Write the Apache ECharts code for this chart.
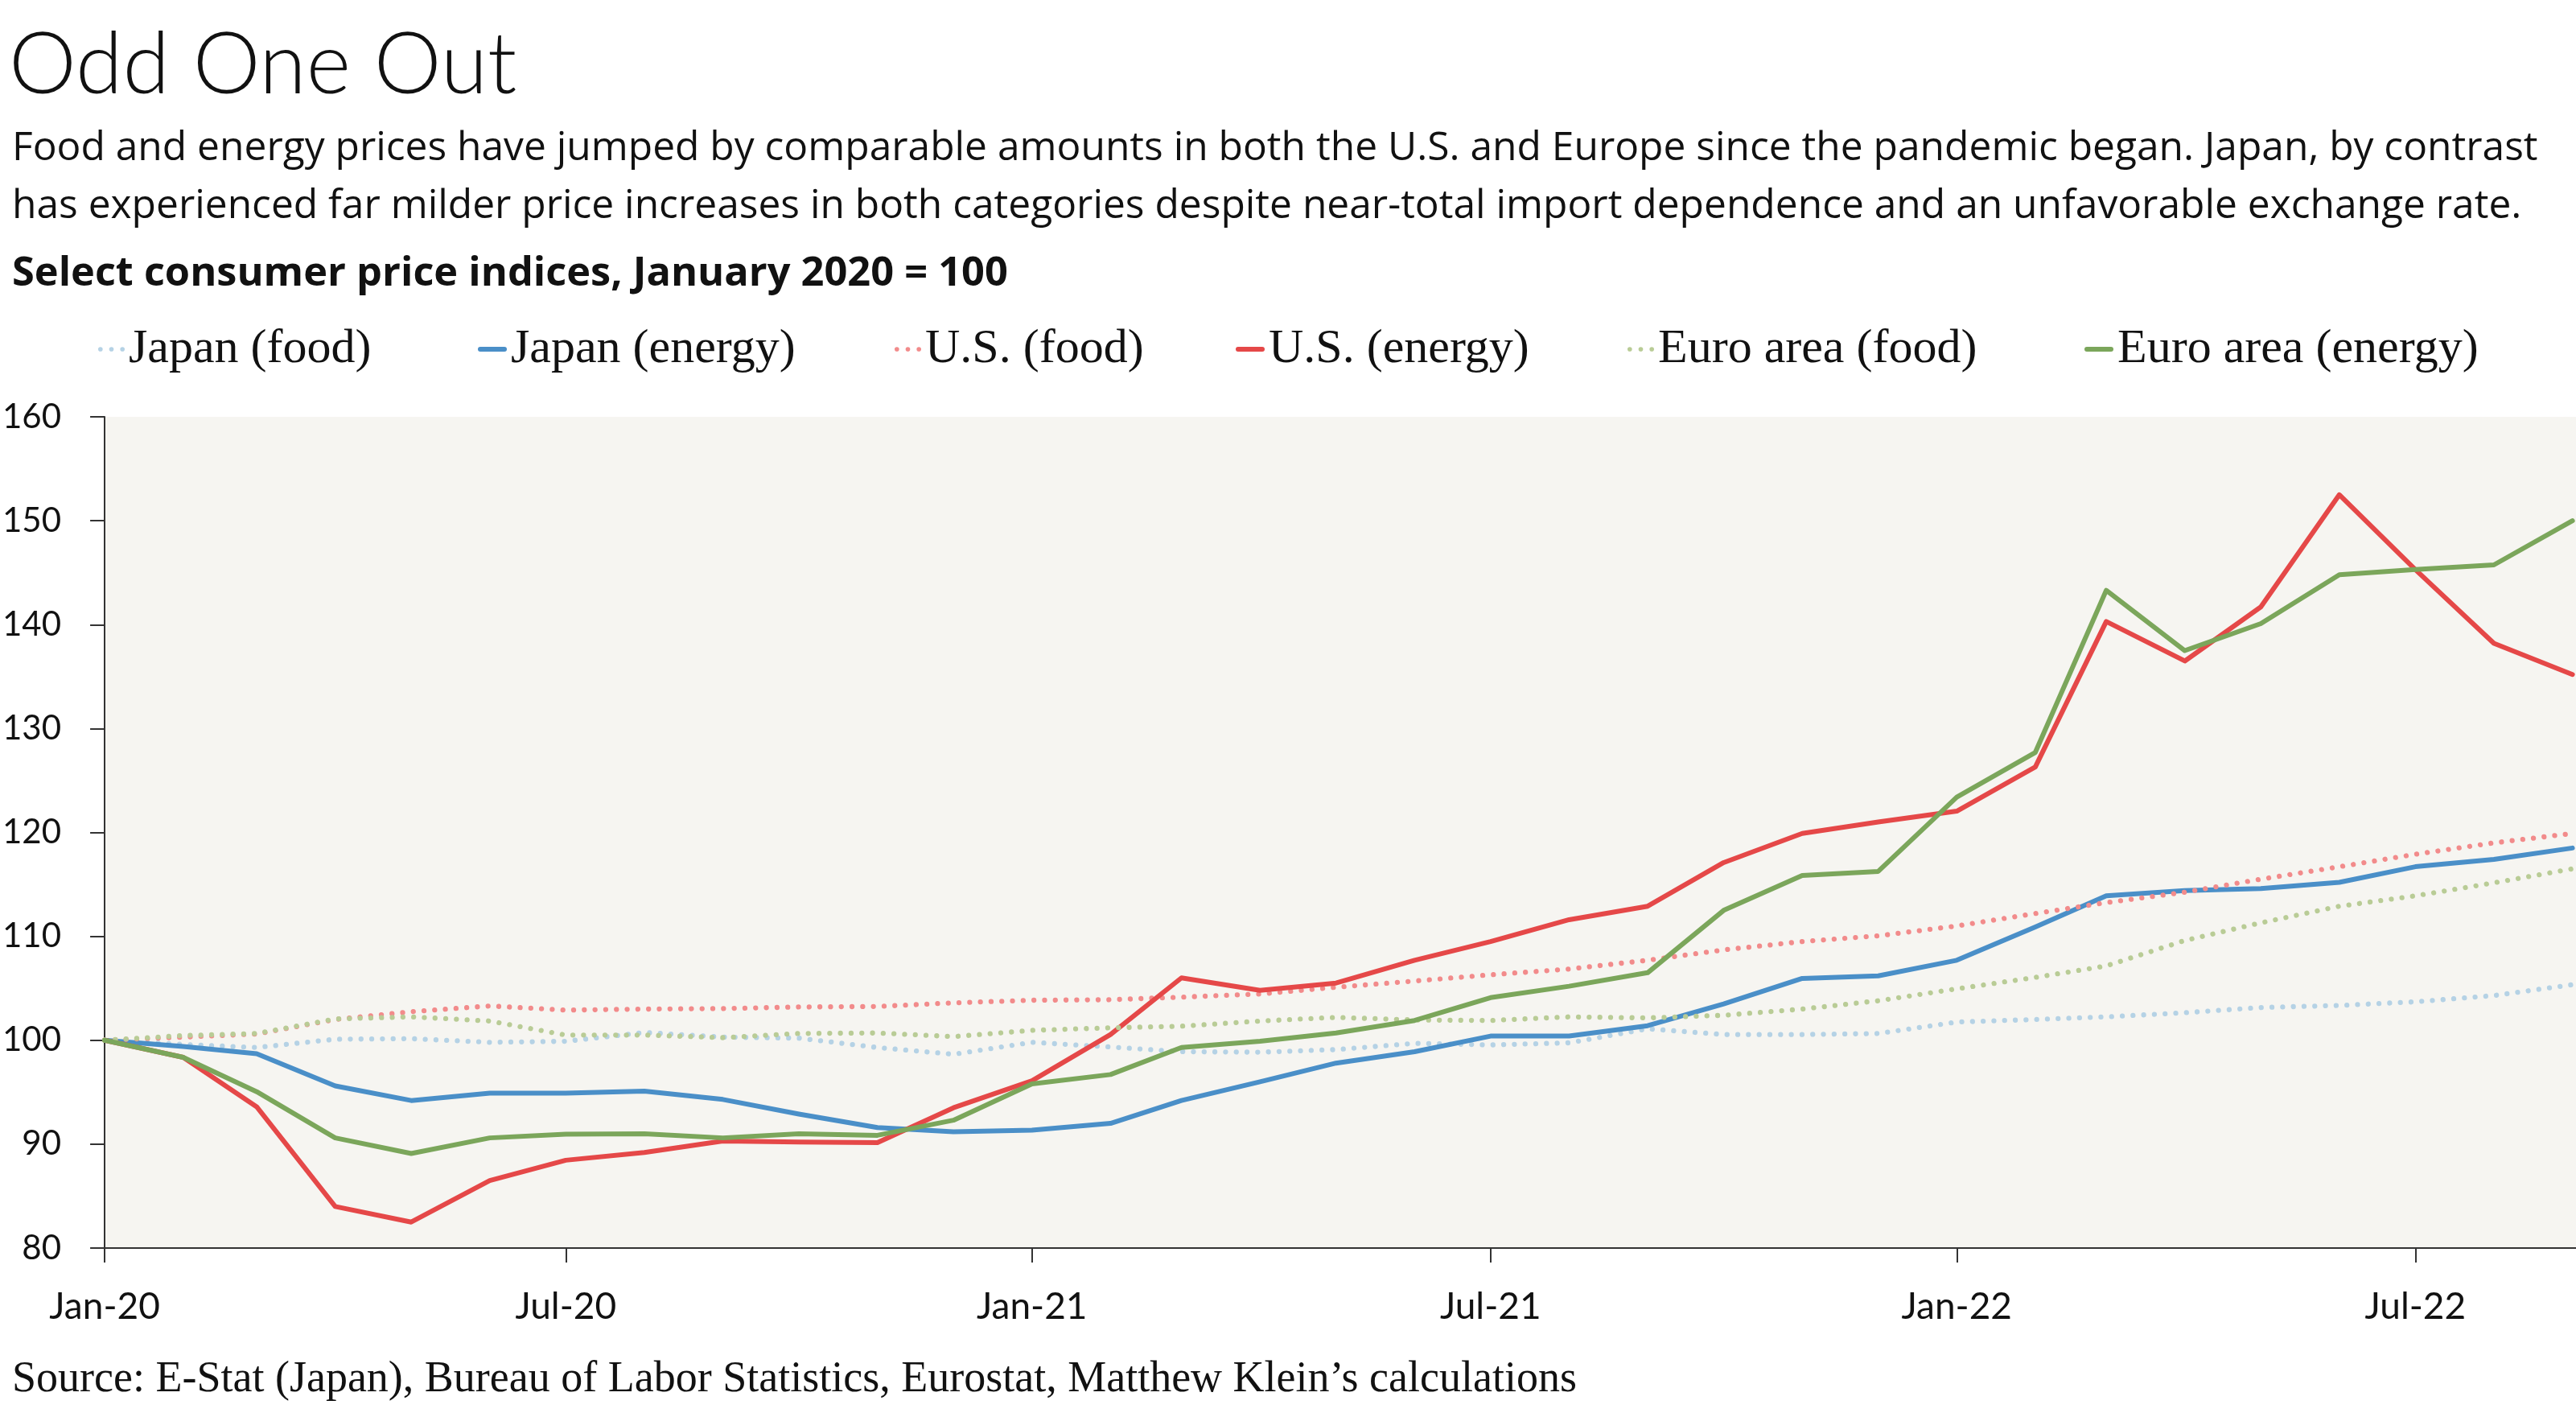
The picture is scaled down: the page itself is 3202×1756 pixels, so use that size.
<!DOCTYPE html>
<html><head><meta charset="utf-8">
<script src="https://cdn.jsdelivr.net/npm/echarts@6/dist/echarts.min.js"></script>
<style>html,body{margin:0;padding:0;background:#fff}#c{width:3202px;height:1756px}</style>
</head><body><div id="c"></div>
<script>
const months = ['2020-01','2020-02','2020-03','2020-04','2020-05','2020-06','2020-07','2020-08','2020-09','2020-10','2020-11','2020-12',
  '2021-01','2021-02','2021-03','2021-04','2021-05','2021-06','2021-07','2021-08','2021-09','2021-10','2021-11','2021-12',
  '2022-01','2022-02','2022-03','2022-04','2022-05','2022-06','2022-07','2022-08','2022-09'];
const japanFood = [100,99.6,99.3,100.1,100.15,99.8,99.9,100.75,100.3,100.2,99.3,98.65,
  99.8,99.35,98.9,98.85,99.1,99.7,99.55,99.75,101.1,100.55,100.55,100.65,
  101.75,102.0,102.25,102.65,103.15,103.35,103.7,104.3,105.35];
const japanEnergy = [100,99.4,98.7,95.6,94.2,94.9,94.9,95.1,94.3,92.9,91.6,91.2,
  91.35,92.0,94.2,96.0,97.8,98.9,100.4,100.4,101.4,103.5,105.95,106.2,
  107.7,110.9,113.9,114.4,114.6,115.2,116.7,117.4,118.5];
const usFood = [100,100.3,100.6,102.0,102.75,103.3,102.9,103.0,103.05,103.2,103.25,103.6,
  103.85,103.9,104.15,104.45,105.1,105.7,106.3,106.85,107.7,108.7,109.5,110.05,
  111.0,112.2,113.25,114.25,115.5,116.7,117.9,119.0,119.9];
const usEnergy = [100,98.35,93.6,84.0,82.5,86.5,88.45,89.2,90.3,90.2,90.15,93.5,
  96.1,100.55,106.0,104.8,105.5,107.7,109.5,111.6,112.9,117.1,119.9,121.0,
  122.05,126.3,140.3,136.5,141.7,152.5,145.3,138.2,135.2];
const euroFood = [100,100.45,100.65,102.05,102.25,101.85,100.5,100.5,100.25,100.65,100.7,100.35,
  100.95,101.2,101.35,101.85,102.2,101.95,101.9,102.25,102.15,102.4,103.0,103.8,
  104.95,106.05,107.15,109.6,111.3,112.9,113.9,115.15,116.5];
const euroEnergy = [100,98.35,95.05,90.6,89.1,90.6,90.95,91.0,90.6,91.0,90.85,92.3,
  95.8,96.7,99.3,99.9,100.7,101.9,104.1,105.2,106.5,112.5,115.85,116.25,
  123.4,127.7,143.3,137.5,140.1,144.8,145.3,145.75,150.0];
const seriesNames = ['Japan (food)','Japan (energy)','U.S. (food)','U.S. (energy)','Euro area (food)','Euro area (energy)'];
const xTickMonths = ['2020-01','2020-07','2021-01','2021-07','2022-01','2022-07'];
const monthAbbr = ['Jan','Feb','Mar','Apr','May','Jun','Jul','Aug','Sep','Oct','Nov','Dec'];

const toTime = s => { const p = s.split('-').map(Number); return Date.UTC(p[0], p[1]-1, 1); };
const DAY = 86400000;
const pairs = vals => months.map((m,i)=>[toTime(m), vals[i]]);

const colors = ['#b5d2e5','#4a8fc8','#f28b8b','#e54848','#b9cc96','#7ba65b'];
const dotted = [true,false,true,false,true,false];
const dataSets = [japanFood, japanEnergy, usFood, usEnergy, euroFood, euroEnergy];
const legendLeft = [122, 594, 1112, 1536, 2023, 2591];
const dotIcon = 'path://M0,3a3,3 0 1,0 6,0a3,3 0 1,0 -6,0M14.5,3a3,3 0 1,0 6,0a3,3 0 1,0 -6,0M29,3a3,3 0 1,0 6,0a3,3 0 1,0 -6,0';
const barIcon = 'path://M3,0L33,0A3,3 0 0,1 33,6L3,6A3,3 0 0,1 3,0Z';

const chart = echarts.init(document.getElementById('c'), null, {renderer:'canvas'});
const serif = '"Liberation Serif", "DejaVu Serif", serif';
const sans = 'Lato, "Open Sans", sans-serif';
const sans2 = '"Open Sans", Lato, sans-serif';
const xTicks = xTickMonths.map(toTime);

const option = {
  animation: false,
  backgroundColor: '#ffffff',
  title: [
    {text: 'Odd One Out', left: 6, top: 22, textStyle: {fontFamily: sans, fontWeight: 300, fontSize: 106, color: '#111', lineHeight: 110}},
    {text: 'Food and energy prices have jumped by comparable amounts in both the U.S. and Europe since the pandemic began. Japan, by contrast\nhas experienced far milder price increases in both categories despite near-total import dependence and an unfavorable exchange rate.',
     left: 10, top: 144, textStyle: {fontFamily: sans2, fontWeight: 400, fontSize: 49.7, color: '#111', lineHeight: 72}},
    {text: 'Select consumer price indices, January 2020 = 100', left: 10, top: 308, textStyle: {fontFamily: sans2, fontWeight: 700, fontSize: 50.5, color: '#111', lineHeight: 56}},
    {text: 'Source: E-Stat (Japan), Bureau of Labor Statistics, Eurostat, Matthew Klein\u2019s calculations', left: 10, top: 1681, textStyle: {fontFamily: serif, fontWeight: 400, fontSize: 54, color: '#111', lineHeight: 58}}
  ],
  legend: seriesNames.map((n,i)=>({
    data: [{name: n, icon: dotted[i] ? dotIcon : barIcon}], left: legendLeft[i], top: 404,
    itemWidth: dotted[i] ? 33 : 36, itemHeight: dotted[i] ? 5.7 : 6, padding: 0,
    itemStyle: {borderWidth: 0},
    textStyle: {fontFamily: serif, fontSize: 60, color: '#111'}
  })),
  grid: {left: 128, right: 0, top: 518, bottom: 205, show: true, backgroundColor: '#f6f5f1', borderWidth: 0, containLabel: false},
  xAxis: {
    type: 'value', min: toTime(months[0]), max: toTime(months[months.length-1]) + 1.4*DAY,
    axisLine: {show: true, lineStyle: {color: '#333', width: 2}},
    axisTick: {show: true, length: 18, lineStyle: {color: '#333', width: 2}, customValues: xTicks},
    axisLabel: {show: true, customValues: xTicks, margin: 50, fontFamily: sans, fontSize: 46, color: '#111',
      formatter: v => { const d = new Date(v); return monthAbbr[d.getUTCMonth()] + '-' + String(d.getUTCFullYear()).slice(2); }},
    splitLine: {show: false}, minorTick: {show: false}
  },
  yAxis: {
    type: 'value', min: 80, max: 160, interval: 10,
    axisLine: {show: true, lineStyle: {color: '#333', width: 2}},
    axisTick: {show: true, length: 18, lineStyle: {color: '#333', width: 2}},
    axisLabel: {margin: 54, fontFamily: sans, fontSize: 42, color: '#111'},
    splitLine: {show: false}
  },
  series: seriesNames.map((n,i)=>({
    name: n, type: 'line', data: pairs(dataSets[i]), symbol: 'none', showSymbol: false, smooth: false,
    color: colors[i],
    lineStyle: dotted[i] ? {color: colors[i], width: 6.3, type: [0.01, 13.3], cap: 'round'} : {color: colors[i], width: 6, cap: 'round', join: 'round'},
    emphasis: {disabled: true}
  }))
};
chart.setOption(option);
</script></body></html>
